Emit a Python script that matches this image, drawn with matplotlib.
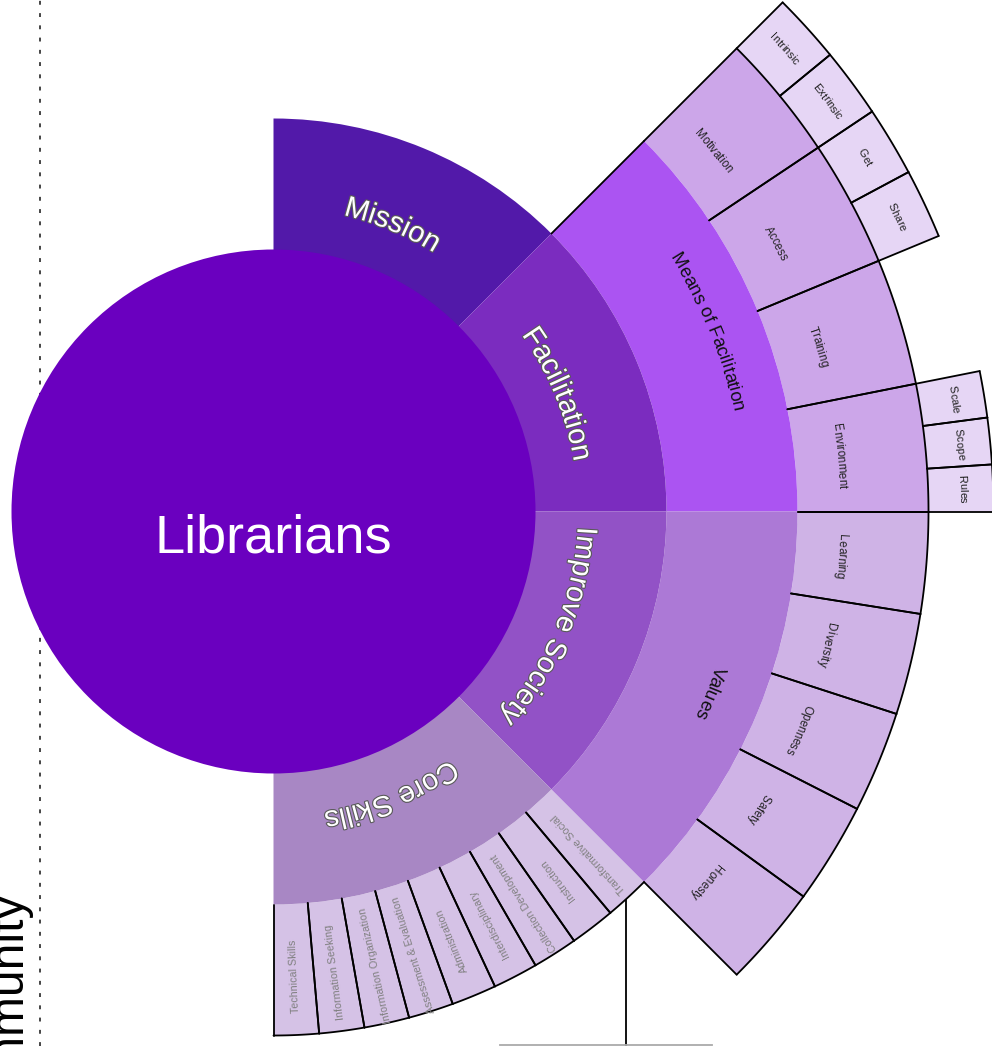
"""
Librarians sunburst — half-disc hierarchy (mission / facilitation / society / skills).
Writes out.png (992 x 1046 px).
"""
import numpy as np
import matplotlib
matplotlib.use("Agg")
import matplotlib.pyplot as plt
import matplotlib.patheffects as pe
from matplotlib.patches import Wedge, Circle
from matplotlib.font_manager import FontProperties, findfont, get_font

W, H, DPI = 992, 1046, 100
PX = DPI / 72          # pixels per point
FONT = "Liberation Sans"

# ── hierarchy, listed clockwise from 12 o'clock ────────────────────────────────
ROOT = "Librarians"
LEVEL1 = ["Mission", "Facilitation", "Improve Society", "Core Skills"]
FACILITATION_CHILD = "Means of Facilitation"
MEANS_ITEMS = ["Motivation", "Access", "Training", "Environment"]
MEANS_SUBITEMS = [["Intrinsic", "Extrinsic"], ["Get", "Share"], [], ["Scale", "Scope", "Rules"]]
SOCIETY_CHILD = "Values"
VALUES_ITEMS = ["Learning", "Diversity", "Openness", "Safety", "Honesty"]
CORE_ITEMS = ["Transformative Social", "Instruction", "Collection Development",
              "Interdisciplinary", "Administration", "Assessment & Evaluation",
              "Information Organization", "Information Seeking", "Technical Skills"]

# ── style ──────────────────────────────────────────────────────────────────────
CX, CY = 273.5, 534.5
RAD = [262, 393, 524, 655, 720]
C_ROOT = "#6A00BF"
C_L1 = {"Mission": "#5219A9", "Facilitation": "#7B2CBF",
        "Improve Society": "#9252C6", "Core Skills": "#A887C4"}
C_MEANS, C_VALUES, C_CORE = "#AB54F2", "#AC79D6", "#D5C2E6"
C_MEANS_ITEMS, C_VALUES_ITEMS, C_SUB = "#CCA6E9", "#CFB3E6", "#E6D6F5"
LW = 1.3


def split(a_hi, a_lo, n):
    e = np.linspace(a_hi, a_lo, n + 1)
    return list(zip(e[:-1], e[1:]))


def polar(r, deg):
    t = np.deg2rad(deg)
    return CX + r * np.cos(t), CY + r * np.sin(t)


def wedge(ax, r_in, r_out, a_hi, a_lo, color, z=1):
    ax.add_patch(Wedge((CX, CY), r_out, a_lo, a_hi, width=r_out - r_in,
                       facecolor=color, edgecolor="none", zorder=z))


def radial_line(ax, r_in, r_out, deg):
    x0, y0 = polar(r_in, deg); x1, y1 = polar(r_out, deg)
    ax.plot([x0, x1], [y0, y1], color="black", lw=LW, zorder=6, solid_capstyle="round")


def arc_line(ax, r, a_hi, a_lo):
    t = np.linspace(a_hi, a_lo, 80)
    x, y = polar(r, t)
    ax.plot(x, y, color="black", lw=LW, zorder=6, solid_capstyle="round")


def outline(ax, r_in, r_out, a_hi, a_lo, left=True, right=True):
    if left:
        radial_line(ax, r_in, r_out, a_hi)
    if right:
        radial_line(ax, r_in, r_out, a_lo)
    arc_line(ax, r_out, a_hi, a_lo)


def glyph_layout(s, fp):
    """Pen advance and ink centre offset of each glyph, in pixels."""
    font = get_font(findfont(fp))
    font.set_size(fp.get_size_in_points(), 72)
    adv, ink = [], []
    for c in s:
        g = font.load_char(ord(c))
        adv.append(g.linearHoriAdvance / 65536)
        ink.append(g.horiBearingX / 64 + g.width / 128)
    try:
        from matplotlib.ft2font import Kerning
        idx = [font.get_char_index(ord(c)) for c in s]
        for i in range(len(s) - 1):
            adv[i] += font.get_kerning(idx[i], idx[i + 1], Kerning.DEFAULT) / 64
    except Exception:
        pass
    return [a * PX for a in adv], [k * PX for k in ink]


def arc_text(ax, s, r, deg, size, color, effects=None):
    """Tangential text running clockwise, tops facing outwards."""
    fp = FontProperties(family=FONT, size=size)
    adv, ink = glyph_layout(s, fp)
    total = sum(adv)
    rb = r - 0.36 * size * PX
    pos = 0.0
    for ch, a, k in zip(s, adv, ink):
        if ch != " ":
            th = deg + np.rad2deg((total / 2 - (pos + k)) / rb)
            x, y = polar(rb, th)
            ax.text(x, y, ch, rotation=th - 90, rotation_mode="anchor", ha="center",
                    va="baseline", fontsize=size, color=color, family=FONT, zorder=8,
                    path_effects=effects)
        pos += a


def radial_text(ax, s, r, deg, size, color):
    """Text along the radius, read inwards."""
    x, y = polar(r, deg)
    ax.text(x, y, s, rotation=deg + 180, rotation_mode="anchor", ha="center",
            va="center_baseline", fontsize=size, color=color, family=FONT, zorder=8)


fig = plt.figure(figsize=(W / DPI, H / DPI), dpi=DPI)
ax = fig.add_axes([0, 0, 1, 1])
ax.set_xlim(0, W); ax.set_ylim(0, H)
ax.set_aspect("equal"); ax.axis("off")

# ── spans ──────────────────────────────────────────────────────────────────────
l1_spans = dict(zip(LEVEL1, split(90, -90, len(LEVEL1))))
halo = [pe.withStroke(linewidth=1.6, foreground="#5a5a5a")]

# core skills ring 2
core_spans = split(*l1_spans["Core Skills"], len(CORE_ITEMS))
for name, (hi, lo) in zip(CORE_ITEMS, core_spans):
    wedge(ax, RAD[1], RAD[2], hi, lo, C_CORE)
for i, (hi, lo) in enumerate(core_spans):
    outline(ax, RAD[1], RAD[2], hi, lo, left=(i > 0))
    radial_text(ax, CORE_ITEMS[i], 465, (hi + lo) / 2, 7.7, "#808080")

# means of facilitation: ring 3 + ring 4
m_hi, m_lo = l1_spans["Facilitation"]
for item, subs, (hi, lo) in zip(MEANS_ITEMS, MEANS_SUBITEMS, split(m_hi, m_lo, len(MEANS_ITEMS))):
    wedge(ax, RAD[2], RAD[3], hi, lo, C_MEANS_ITEMS)
    outline(ax, RAD[2], RAD[3], hi, lo)
    arc_text(ax, item, 570, (hi + lo) / 2, 8.3, "#222222")
    for sub, (shi, slo) in zip(subs, split(hi, lo, max(len(subs), 1))):
        wedge(ax, RAD[3], RAD[4], shi, slo, C_SUB)
        outline(ax, RAD[3], RAD[4], shi, slo)
        arc_text(ax, sub, 690, (shi + slo) / 2, 7.9, "#222222")
wedge(ax, RAD[1], RAD[2], m_hi, m_lo, C_MEANS, z=2)
radial_line(ax, RAD[1], RAD[2], m_hi)
arc_text(ax, FACILITATION_CHILD, 477, (m_hi + m_lo) / 2, 13.3, "#111111")

# values: ring 3
v_hi, v_lo = l1_spans["Improve Society"]
for item, (hi, lo) in zip(VALUES_ITEMS, split(v_hi, v_lo, len(VALUES_ITEMS))):
    wedge(ax, RAD[2], RAD[3], hi, lo, C_VALUES_ITEMS)
    outline(ax, RAD[2], RAD[3], hi, lo)
    arc_text(ax, item, 570, (hi + lo) / 2, 8.3, "#222222")
wedge(ax, RAD[1], RAD[2], v_hi, v_lo, C_VALUES, z=2)
arc_text(ax, SOCIETY_CHILD, 474, (v_hi + v_lo) / 2, 13.3, "#111111")

# level 1 ring
for name in LEVEL1:
    hi, lo = l1_spans[name]
    wedge(ax, RAD[0] - 2, RAD[1], hi, lo, C_L1[name], z=3)
    arc_text(ax, name, 315, (hi + lo) / 2, 21, "white", effects=halo)

# root
ax.add_patch(Circle((CX, CY), RAD[0], facecolor=C_ROOT, edgecolor="none", zorder=4))
ax.text(CX, CY - 41, ROOT, ha="center", va="baseline", fontsize=39, color="white",
        family=FONT, zorder=8)

# ── surrounding diagram fragments (cropped in the source) ─────────────────────
ax.plot([39.5, 39.5], [0, H], color="#444444", lw=1.4, ls=(0, (2.0, 4.3)), zorder=0)
ax.text(22, 154, "Community", rotation=90, rotation_mode="anchor", ha="right",
        va="baseline", fontsize=34.5, color="black", family=FONT, zorder=0)
x_stem = 626
y_stem = CY - np.sqrt(RAD[2] ** 2 - (x_stem - CX) ** 2)
ax.plot([x_stem, x_stem], [0, y_stem], color="black", lw=1.3, zorder=0)
ax.plot([500, 712], [1, 1], color="#aaaaaa", lw=1.3, zorder=0)

fig.savefig("out.png", dpi=DPI)
